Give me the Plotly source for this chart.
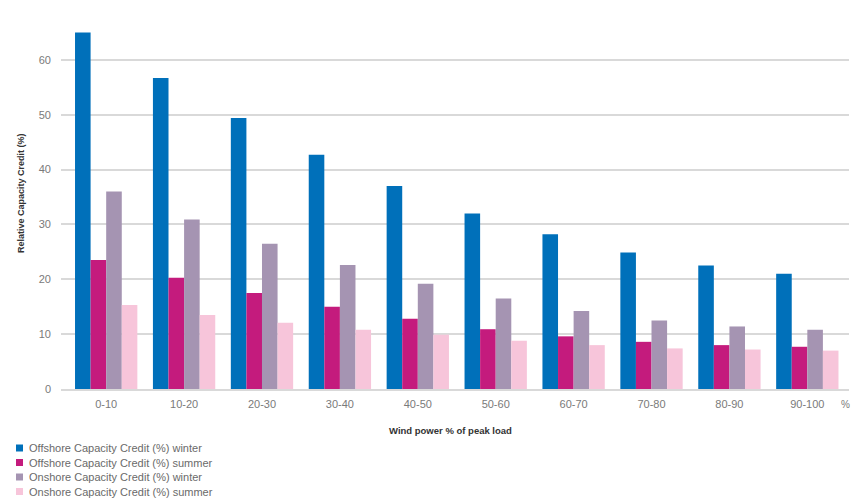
import plotly.graph_objects as go

# Wind power share of peak load (%)
categories = ["0-10", "10-20", "20-30", "30-40", "40-50",
              "50-60", "60-70", "70-80", "80-90", "90-100"]

# Relative capacity credit (%) by installation type and season
offshore_winter = [65.0, 56.7, 49.4, 42.7, 37.0, 32.0, 28.2, 24.9, 22.5, 21.0]
offshore_summer = [23.5, 20.3, 17.5, 15.0, 12.8, 10.9, 9.6, 8.6, 8.0, 7.7]
onshore_winter = [36.0, 30.9, 26.5, 22.6, 19.2, 16.5, 14.2, 12.5, 11.4, 10.8]
onshore_summer = [15.3, 13.5, 12.1, 10.8, 9.9, 8.8, 8.0, 7.4, 7.2, 7.0]

series_names = [
    "Offshore Capacity Credit (%) winter",
    "Offshore Capacity Credit (%) summer",
    "Onshore Capacity Credit (%) winter",
    "Onshore Capacity Credit (%) summer",
]
series_values = [offshore_winter, offshore_summer, onshore_winter, onshore_summer]
series_colors = ["#0070BA", "#C41B7D", "#A594B2", "#F7C5DA"]

W, H = 859, 501
M_L, M_R, M_T, M_B = 61, 10, 27, 112
PW, PH = W - M_L - M_R, H - M_T - M_B

FONT = "Liberation Sans"
GREY = "#7a7a7a"

fig = go.Figure()
for name, vals, col in zip(series_names, series_values, series_colors):
    fig.add_trace(go.Bar(x=categories, y=vals, name=name,
                         marker=dict(color=col, line=dict(width=0)),
                         showlegend=False))

fig.update_layout(
    width=W, height=H,
    margin=dict(l=M_L, r=M_R, t=M_T, b=M_B, pad=0),
    paper_bgcolor="white", plot_bgcolor="white",
    barmode="group", bargap=0.2, bargroupgap=0,
    font=dict(family=FONT, color=GREY, size=11),
    xaxis=dict(type="category", range=[-0.58, 9.535],
               showgrid=False, zeroline=False,
               showline=True, linecolor="#d9d9d9", linewidth=2,
               ticks="", tickfont=dict(size=11, color=GREY),
               ticklabelstandoff=4),
    yaxis=dict(range=[0, 66], tickvals=[0, 10, 20, 30, 40, 50, 60],
               showgrid=True, gridcolor="#d9d9d9", gridwidth=2,
               zeroline=False, showline=False, ticks="",
               tickfont=dict(size=11, color=GREY), ticklabelstandoff=9),
)


def px_x(p):
    return (p - M_L) / PW


def px_y(p):
    return (H - M_B - p) / PH


annotations = [
    dict(text="<b>Relative Capacity Credit (%)</b>", textangle=-90,
         x=px_x(21), y=px_y(193), xref="paper", yref="paper",
         xanchor="center", yanchor="middle", showarrow=False,
         font=dict(size=9, color="#333333", family=FONT)),
    dict(text="<b>Wind power % of peak load</b>",
         x=px_x(450), y=px_y(430), xref="paper", yref="paper",
         xanchor="center", yanchor="middle", showarrow=False,
         font=dict(size=9.5, color="#333333", family=FONT)),
    dict(text="%", x=px_x(845), y=px_y(404), xref="paper", yref="paper",
         xanchor="center", yanchor="middle", showarrow=False,
         font=dict(size=10, color=GREY, family=FONT)),
]

# Legend drawn as a compact list below the chart
shapes = []
row_y = [448, 462.5, 477, 491.5]
for name, col, ry in zip(series_names, series_colors, row_y):
    shapes.append(dict(type="rect", xref="paper", yref="paper",
                       x0=px_x(16), x1=px_x(23), y0=px_y(ry + 3.5), y1=px_y(ry - 3.5),
                       fillcolor=col, line=dict(width=0)))
    annotations.append(dict(text=name, x=px_x(27), y=px_y(ry),
                            xref="paper", yref="paper", xanchor="left",
                            yanchor="middle", showarrow=False,
                            font=dict(size=11, color="#6a6a6a", family=FONT)))

fig.update_layout(annotations=annotations, shapes=shapes)
fig.write_html("out.html")
